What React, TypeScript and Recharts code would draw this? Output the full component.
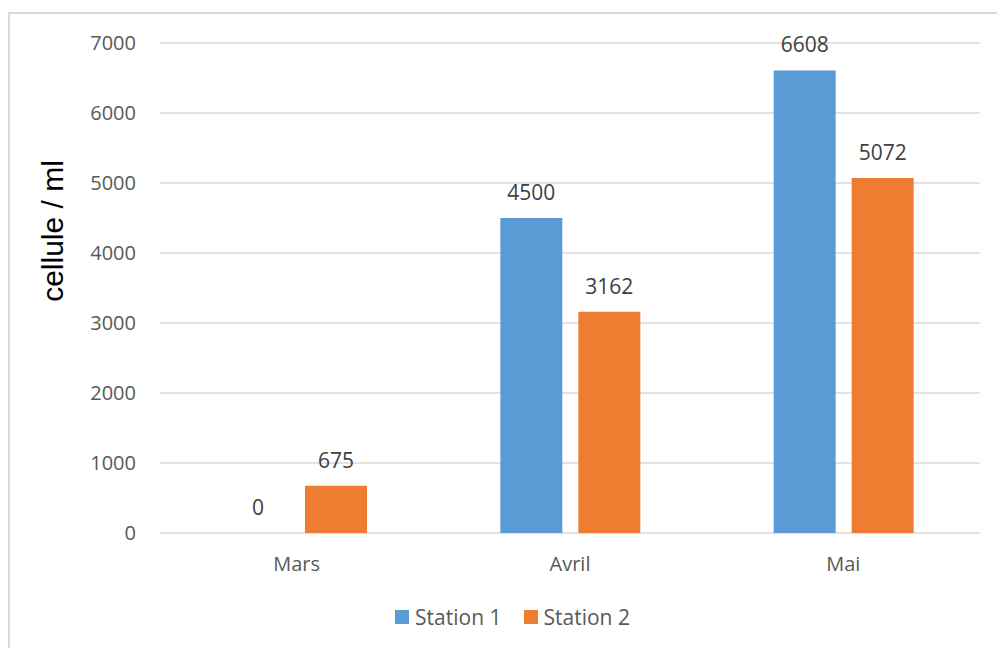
import {
  BarChart,
  Bar,
  XAxis,
  YAxis,
  CartesianGrid,
  Legend,
  LabelList,
  Label,
} from "recharts";

const months = ["Mars", "Avril", "Mai"];
const station1 = [0, 4500, 6608];
const station2 = [675, 3162, 5072];
const yTicks = [0, 1000, 2000, 3000, 4000, 5000, 6000, 7000];

const chartData = months.map((m, i) => ({
  month: m,
  "Station 1": station1[i],
  "Station 2": station2[i],
}));

const FONT = "'Open Sans', sans-serif";
const GRID = "#d9d9d9";

function LegendBox({ payload }: any) {
  return (
    <div
      style={{
        display: "flex",
        justifyContent: "center",
        alignItems: "center",
        height: 28,
        paddingLeft: 28,
        fontFamily: FONT,
        fontSize: 21,
        color: "#595959",
      }}
    >
      {(payload || []).map((p: any) => (
        <div key={p.value} style={{ display: "flex", alignItems: "center", margin: "0 11px" }}>
          <span style={{ width: 14, height: 14, background: p.color, marginRight: 6 }} />
          <span>{p.value}</span>
        </div>
      ))}
    </div>
  );
}

function AxisTitle() {
  return (
    <text
      x={52}
      y={231}
      transform="rotate(-90 52 231)"
      textAnchor="middle"
      dominantBaseline="central"
      fontFamily="'Liberation Sans', Arial, sans-serif"
      fontSize={30}
      fill="#000"
    >
      cellule / ml
    </text>
  );
}

// value labels sit above each bar, also for bars of height 0
function ValueLabel(props: any) {
  const { x, y, width, value } = props;
  if (value == null) return null;
  return (
    <text
      x={Number(x) + Number(width) / 2}
      y={Number(y) - 18}
      textAnchor="middle"
      fill="#404040"
      fontSize={21}
      fontFamily={FONT}
    >
      {value}
    </text>
  );
}

export default function App() {
  return (
    <div style={{ position: "absolute", left: 0, top: 0, width: 997, height: 648, background: "#fff", overflow: "hidden" }}>
      <div
        style={{
          position: "absolute",
          left: 8,
          top: 12,
          width: 1000,
          height: 700,
          border: `2px solid ${GRID}`,
          boxSizing: "border-box",
        }}
      />
      <BarChart
        width={997}
        height={648}
        data={chartData}
        margin={{ top: 43, right: 17, left: 0, bottom: 57 }}
        barSize={62}
        barGap={16}
        style={{ position: "absolute", left: 0, top: 0 }}
      >
        <CartesianGrid stroke={GRID} strokeWidth={1.5} vertical={false} />
        <XAxis
          dataKey="month"
          axisLine={false}
          tickLine={false}
          tickSize={0}
          tickMargin={24}
          tick={{ fontSize: 20, fill: "#595959", fontFamily: FONT }}
        />
        <YAxis
          width={160}
          domain={[0, 7000]}
          ticks={yTicks}
          axisLine={false}
          tickLine={false}
          tickSize={0}
          tickMargin={24}
          tick={{ fontSize: 20, fill: "#595959", fontFamily: FONT }}
        >
          <Label content={() => <AxisTitle />} />
        </YAxis>
        <Legend
          verticalAlign="bottom"
          content={<LegendBox />}
          wrapperStyle={{ top: 603, bottom: "auto", left: 0, width: 997 }}
        />
        <Bar dataKey="Station 1" fill="#5b9bd5" minPointSize={0.01} isAnimationActive={false}>
          <LabelList dataKey="Station 1" content={ValueLabel} />
        </Bar>
        <Bar dataKey="Station 2" fill="#ed7d31" isAnimationActive={false}>
          <LabelList dataKey="Station 2" content={ValueLabel} />
        </Bar>
      </BarChart>
    </div>
  );
}
